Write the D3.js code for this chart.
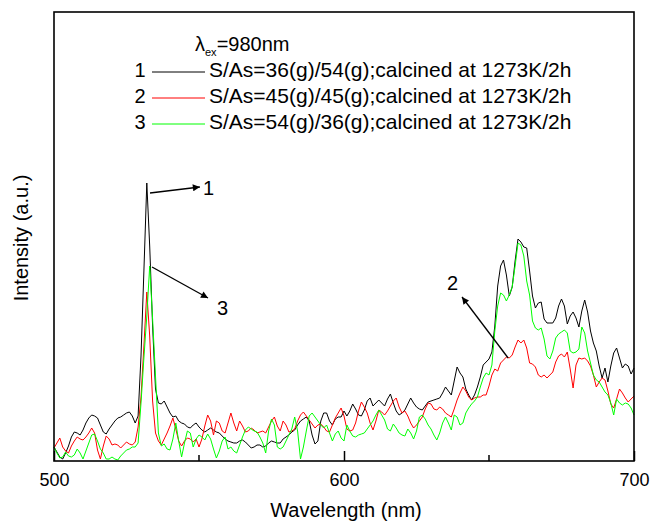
<!DOCTYPE html>
<html>
<head>
<meta charset="utf-8">
<script src="https://cdn.jsdelivr.net/npm/d3@7"></script>
<style>
  body { margin: 0; background: #fff; }
  svg { display: block; font-family: Arial, "Liberation Sans", sans-serif; }
</style>
</head>
<body>
<div class="plot"></div>
<script>

// wavelength grid: 500..700 nm, 1 nm step
const wlStart = 500;
const wlStep = 1;

// sample 1: S/As=36/54 (black)
const series1 = [
  14,9,4,2,8,15,24,29,28,26, 31,38,43,46,45,43,36,29,27,32,
  36,40,43,44,46,48,49,45,38,45, 105,190,278,215,135,72,58,57,60,54,
  48,44,45,40,38,37,34,33,36,38,
  34,31,29,31,33,31,29,28,25,22, 20,19,18,18,20,21,19,16,13,14,
  16,16,14,15,18,20,19,18,18,22, 24,26,29,31,36,40,42,44,40,26,
  17,20,40,48,48,40,36,42,44,44,
  50,45,50,57,52,46,45,51,60,63, 55,58,61,58,55,62,67,58,50,46,
  48,51,57,63,58,54,52,51,55,59, 60,61,62,63,68,74,70,66,80,94,
  88,84,72,66,61,66,74,84,96,99,
  102,109,135,175,195,201,186,165,174,200, 222,219,214,213,190,165,153,158,159,142,
  138,138,138,143,155,162,155,137,145,149, 143,134,150,161,149,130,118,110,95,83,
  93,79,95,108,113,103,93,97,95,87, 93
];

// sample 2: S/As=45/45 (red)
const series2 = [
  13,18,23,14,10,8,15,20,24,22, 21,24,28,33,28,11,2,15,25,22,
  16,17,16,13,16,19,17,16,19,34, 64,115,169,125,60,28,20,16,22,28,
  35,43,32,20,15,20,23,22,19,22,
  14,22,35,46,40,26,40,38,30,28, 38,48,38,30,40,35,29,30,33,31,
  28,29,30,28,34,40,44,35,30,40, 36,29,30,32,40,46,49,45,41,37,
  33,36,37,34,30,29,36,43,48,53,
  45,32,30,31,38,50,59,54,48,38, 31,40,51,49,46,50,55,60,63,54,
  48,50,45,38,33,36,40,44,52,58, 57,52,51,54,52,48,46,44,52,61,
  68,74,70,64,61,63,64,64,66,66,
  75,86,92,90,98,101,104,103,106,114, 121,118,121,113,98,97,94,86,84,86,
  83,86,89,99,105,107,104,109,92,73, 96,103,102,103,100,95,86,74,79,83,
  81,70,57,53,62,72,68,63,59,62, 65
];

// sample 3: S/As=54/36 (green)
const series3 = [
  14,8,3,4,9,5,4,6,12,8, 2,10,18,26,27,20,12,8,2,2,
  4,2,1,5,8,11,12,14,14,18, 58,103,145,195,142,85,28,15,17,12,
  11,22,38,20,4,18,30,28,14,22,
  26,24,21,27,22,12,3,10,20,24, 12,14,10,8,16,24,31,34,32,30,
  29,24,18,8,30,42,36,14,12,14, 20,26,32,44,30,2,14,30,45,48,
  44,40,36,33,36,28,20,27,30,23,
  20,36,30,25,24,26,27,28,32,36, 40,46,51,46,41,32,30,37,33,28,
  26,25,32,28,22,30,44,46,42,36, 32,26,21,28,38,44,38,31,46,44,
  36,38,48,53,57,60,64,74,83,88,
  86,96,130,155,168,166,160,166,174,195, 218,216,205,180,166,140,133,131,133,122,
  105,102,110,123,127,129,131,128,110,108, 109,112,134,128,110,98,86,81,79,74,
  69,66,58,46,62,58,56,58,57,53, 46
];

const seriesNames = [
  "S/As=36(g)/54(g);calcined at 1273K/2h",
  "S/As=45(g)/45(g);calcined at 1273K/2h",
  "S/As=54(g)/36(g);calcined at 1273K/2h"
];
const seriesLabels = ["1", "2", "3"];
const seriesColors = ["#000000", "#ff0000", "#00ff00"];

const xTicksMajor = [500, 600, 700];
const xTicksMinor = [550, 650];

// callouts: label, arrow from (wavelength, intensity) to (wavelength, intensity), label anchor
const callouts = [
  {label: "1", x1: 533.1, y1: 268, x2: 550.3, y2: 274, lx: 551.4, ly: 266},
  {label: "3", x1: 533.8, y1: 194, x2: 553.1, y2: 163, lx: 556.2, ly: 146},
  {label: "2", x1: 656.6, y1: 103, x2: 640.7, y2: 164, lx: 635.5, ly: 171}
];

const width = 662;
const height = 524;
const margin = {top: 12, left: 54, right: 28, bottom: 63};
const plotWidth = width - margin.left - margin.right;
const plotHeight = height - margin.top - margin.bottom;

const xScale = d3.scaleLinear().domain([500, 700]).range([0, plotWidth]);
const yScale = d3.scaleLinear().domain([0, 449]).range([plotHeight, 0]);

const svg = d3.select('.plot').append('svg')
  .attr('width', width)
  .attr('height', height);

svg.append('defs').append('marker')
  .attr('id', 'arrow')
  .attr('viewBox', '0 0 10 10')
  .attr('refX', 10).attr('refY', 5)
  .attr('markerWidth', 9).attr('markerHeight', 7)
  .attr('markerUnits', 'userSpaceOnUse')
  .attr('orient', 'auto')
  .append('path')
  .attr('d', 'M0,0 L10,5 L0,10 Z')
  .attr('fill', '#000');

const g = svg.append('g')
  .attr('transform', `translate(${margin.left},${margin.top})`);

// curves
const line = d3.line()
  .x((d, i) => xScale(wlStart + i * wlStep))
  .y(d => yScale(d));

[series1, series2, series3].forEach(function(s, k) {
  g.append('path')
    .datum(s)
    .attr('d', line)
    .attr('fill', 'none')
    .attr('stroke', seriesColors[k])
    .attr('stroke-width', 1)
    .attr('stroke-linejoin', 'round');
});

// bottom axis, ticks pointing in
const xAxis = g.append('g')
  .attr('transform', `translate(0,${plotHeight})`)
  .call(d3.axisBottom(xScale).tickValues(xTicksMajor).tickSize(-10).tickPadding(12).tickFormat(d3.format('d')));
xAxis.select('.domain').remove();
xAxis.selectAll('line').attr('stroke', '#000').attr('stroke-width', 1.5);
xAxis.selectAll('text')
  .attr('font-size', 18)
  .attr('font-family', 'Arial, "Liberation Sans", sans-serif')
  .attr('fill', '#000');

g.selectAll('.minor')
  .data(xTicksMinor)
  .enter()
  .append('line')
  .attr('class', 'minor')
  .attr('x1', d => xScale(d)).attr('x2', d => xScale(d))
  .attr('y1', plotHeight).attr('y2', plotHeight - 6)
  .attr('stroke', '#000')
  .attr('stroke-width', 1.5);

// frame
g.append('rect')
  .attr('x', 0).attr('y', 0)
  .attr('width', plotWidth).attr('height', plotHeight)
  .attr('fill', 'none')
  .attr('stroke', '#000')
  .attr('stroke-width', 1.6);

// axis labels
g.append('text')
  .attr('x', plotWidth / 2 + 2)
  .attr('y', plotHeight + 56)
  .attr('text-anchor', 'middle')
  .attr('font-size', 20)
  .text('Wavelength (nm)');

svg.append('text')
  .attr('transform', 'rotate(-90)')
  .attr('x', -238)
  .attr('y', 28)
  .attr('text-anchor', 'middle')
  .attr('font-size', 20)
  .text('Intensity (a.u.)');

// excitation note
const ex = svg.append('text')
  .attr('x', 195)
  .attr('y', 51)
  .attr('font-size', 20);
ex.append('tspan').text('λ');
ex.append('tspan').attr('font-size', 11).attr('dy', 5).text('ex');
ex.append('tspan').attr('dy', -5).text('=980nm');

// legend
const legendRows = svg.selectAll('.legend')
  .data(seriesNames)
  .enter()
  .append('g')
  .attr('class', 'legend')
  .attr('transform', (d, i) => `translate(0,${77 + i * 26})`);

legendRows.append('text')
  .attr('x', 140)
  .attr('text-anchor', 'middle')
  .attr('font-size', 20)
  .text((d, i) => seriesLabels[i]);

legendRows.append('line')
  .attr('x1', 152).attr('x2', 205)
  .attr('y1', -5).attr('y2', -5)
  .attr('stroke', (d, i) => seriesColors[i])
  .attr('stroke-width', 1);

legendRows.append('text')
  .attr('x', 209)
  .attr('font-size', 21)
  .text(d => d);

// callout arrows and their numbers
callouts.forEach(function(c) {
  g.append('line')
    .attr('x1', xScale(c.x1)).attr('y1', yScale(c.y1))
    .attr('x2', xScale(c.x2)).attr('y2', yScale(c.y2))
    .attr('stroke', '#000')
    .attr('stroke-width', 1.3)
    .attr('marker-end', 'url(#arrow)');

  g.append('text')
    .attr('x', xScale(c.lx))
    .attr('y', yScale(c.ly))
    .attr('font-size', 20)
    .text(c.label);
});

</script>
</body>
</html>
